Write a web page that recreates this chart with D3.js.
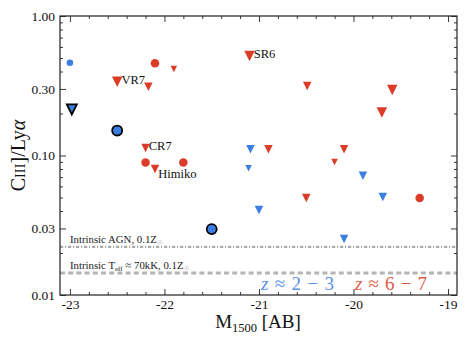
<!DOCTYPE html>
<html><head><meta charset="utf-8">
<script src="https://cdn.jsdelivr.net/npm/d3@7"></script>
<style>body{margin:0;background:#fff}svg{display:block}text{font-family:"Liberation Serif","Times New Roman",serif}</style>
</head><body><div id="chart"></div>
<script>
// ---- data ----
const lowZ_M    = [-23.0, -22.98, -22.5, -21.5, -21.09, -21.11, -21.0, -19.9, -19.69, -20.1];
const lowZ_R    = [0.462, 0.214, 0.151, 0.0297, 0.111, 0.081, 0.0407, 0.0717, 0.0504, 0.0252];
const lowZ_kind = ["det", "lim", "det", "det", "lim", "lim", "lim", "lim", "lim", "lim"];
const lowZ_class= ["S", "H", "H", "H", "M", "S", "M", "M", "M", "M"];

const highZ_M    = [-22.1, -21.9, -22.5, -22.17, -21.1, -20.49, -19.59, -19.7, -22.2, -22.2, -22.1, -21.8, -20.9, -20.1, -20.2, -20.5, -19.3];
const highZ_R    = [0.458, 0.417, 0.338, 0.311, 0.517, 0.315, 0.295, 0.203, 0.113, 0.089, 0.080, 0.089, 0.111, 0.111, 0.090, 0.0496, 0.0496];
const highZ_kind = ["det","lim","lim","lim","lim","lim","lim","lim","lim","det","lim","det","lim","lim","lim","lim","det"];
const highZ_class= ["M","S","L","M","L","M","L","L","M","M","M","M","M","M","S","M","M"];
const highZ_name = ["","","VR7","","SR6","","","","CR7","","Himiko","","","","","",""];

const xTicks = [-23, -22, -21, -20, -19];
const xTickLabels = ["-23", "-22", "-21", "-20", "-19"];
const yTicks = [0.01, 0.03, 0.1, 0.3, 1.0];
const yTickLabels = ["0.01", "0.03", "0.10", "0.30", "1.00"];
const refLines = [
  {value: 0.0221, label: "AGN"},
  {value: 0.0144, label: "Teff"}
];

// ---- layout ----
const W = 469, H = 342;
const m = {l: 60, r: 12, t: 16, b: 47};
const BLUE = "#3b7ee3", RED = "#dc3c27";
const svg = d3.select("#chart").append("svg").attr("width", W).attr("height", H);
const x = d3.scaleLinear().domain([-23.105, -18.905]).range([m.l, W - m.r]);
const y = d3.scaleLog().domain([0.01, 1]).range([H - m.b, m.t]);

// reference lines
const gl = svg.append("g");
gl.append("line").attr("x1", m.l).attr("x2", W - m.r)
  .attr("y1", y(refLines[0].value)).attr("y2", y(refLines[0].value))
  .attr("stroke", "#aaaaaa").attr("stroke-width", 2.2).attr("stroke-dasharray", "3.2,1.8,1.2,1.8");
gl.append("line").attr("x1", m.l).attr("x2", W - m.r)
  .attr("y1", y(refLines[1].value)).attr("y2", y(refLines[1].value))
  .attr("stroke", "#b5b5b5").attr("stroke-width", 3).attr("stroke-dasharray", "5,3.2");

const t1 = svg.append("text").attr("x", x(-23) ).attr("y", y(refLines[0].value) - 4)
  .attr("font-size", 10.8).attr("fill", "#222");
t1.append("tspan").text("Intrinsic AGN, 0.1Z");
t1.append("tspan").attr("font-size", 6.5).attr("dy", 2).attr("font-family", "DejaVu Sans").attr("fill","#999").text("☉");
const t2 = svg.append("text").attr("x", x(-23)).attr("y", y(refLines[1].value) - 4)
  .attr("font-size", 10.8).attr("fill", "#222");
t2.append("tspan").text("Intrinsic T");
t2.append("tspan").attr("font-size", 7).attr("dy", 2).text("eff");
t2.append("tspan").attr("dy", -2).text(" ≈ 70kK, 0.1Z");
t2.append("tspan").attr("font-size", 6.5).attr("dy", 2).attr("font-family", "DejaVu Sans").attr("fill","#999").text("☉");

// axes (ticks inward, mirrored)
const minorX = d3.range(-23.0, -18.85, 0.2).map(v => Math.round(v * 10) / 10).filter(v => !xTicks.includes(v));
const minorY = [];
[0.01, 0.1].forEach(d => { for (let k = 2; k <= 9; k++) minorY.push(d * k); });
const minorYf = minorY.filter(v => !yTicks.some(t => Math.abs(t - v) < 1e-9));

function tickStyle(g) {
  g.select(".domain").remove();
  g.selectAll("line").attr("stroke", "#222").attr("stroke-width", 0.9);
  g.selectAll("text").attr("font-family", "Liberation Serif, serif").attr("font-size", 13.5).attr("fill", "#111");
}
svg.append("g").attr("transform", `translate(0,${H - m.b})`)
  .call(d3.axisBottom(x).tickValues(xTicks).tickFormat((d, i) => xTickLabels[i]).tickSizeInner(-6).tickPadding(4)).call(tickStyle);
svg.append("g").attr("transform", `translate(0,${H - m.b})`)
  .call(d3.axisBottom(x).tickValues(minorX).tickFormat("").tickSizeInner(-3)).call(tickStyle);
svg.append("g").attr("transform", `translate(0,${m.t})`)
  .call(d3.axisTop(x).tickValues(xTicks).tickFormat("").tickSizeInner(-6)).call(tickStyle);
svg.append("g").attr("transform", `translate(0,${m.t})`)
  .call(d3.axisTop(x).tickValues(minorX).tickFormat("").tickSizeInner(-3)).call(tickStyle);
svg.append("g").attr("transform", `translate(${m.l},0)`)
  .call(d3.axisLeft(y).tickValues(yTicks).tickFormat((d, i) => yTickLabels[i]).tickSizeInner(-6).tickPadding(5)).call(tickStyle);
svg.append("g").attr("transform", `translate(${m.l},0)`)
  .call(d3.axisLeft(y).tickValues(minorYf).tickFormat("").tickSizeInner(-3)).call(tickStyle);
svg.append("g").attr("transform", `translate(${W - m.r},0)`)
  .call(d3.axisRight(y).tickValues(yTicks).tickFormat("").tickSizeInner(-6)).call(tickStyle);
svg.append("g").attr("transform", `translate(${W - m.r},0)`)
  .call(d3.axisRight(y).tickValues(minorYf).tickFormat("").tickSizeInner(-3)).call(tickStyle);
svg.append("rect").attr("x", m.l).attr("y", m.t).attr("width", W - m.l - m.r).attr("height", H - m.t - m.b)
  .attr("fill", "none").attr("stroke", "#222").attr("stroke-width", 1.2);

// markers
const sizeOf = {S: 6.5, M: 8.5, L: 10.5, H: 10};
function drawSet(Ms, Rs, kinds, classes, color) {
  const g = svg.append("g");
  Ms.forEach((mv, i) => {
    const cx = x(mv), cy = y(Rs[i]), s = sizeOf[classes[i]];
    const edged = classes[i] === "H";
    if (kinds[i] === "det") {
      g.append("circle").attr("cx", cx).attr("cy", cy).attr("r", s / 2)
        .attr("fill", color).attr("stroke", edged ? "#000" : "none").attr("stroke-width", edged ? 1.8 : 0);
    } else {
      const h = s / 2;
      g.append("path").attr("d", `M${cx - h},${cy - h}L${cx + h},${cy - h}L${cx},${cy + h}Z`)
        .attr("fill", color).attr("stroke", edged ? "#000" : "none").attr("stroke-width", edged ? 1.8 : 0)
        .attr("stroke-linejoin", "miter");
    }
  });
  return g;
}
drawSet(highZ_M, highZ_R, highZ_kind, highZ_class, RED);
drawSet(lowZ_M, lowZ_R, lowZ_kind, lowZ_class, BLUE);

// names
highZ_name.forEach((n, i) => {
  if (!n) return;
  const s = sizeOf[highZ_class[i]];
  const dy = n === "Himiko" ? 8.5 : 2;
  svg.append("text").attr("x", x(highZ_M[i]) + s / 2 - 1).attr("y", y(highZ_R[i]) + dy)
    .attr("font-size", 12.5).attr("fill", "#111").text(n);
});

// legend text
const lg1 = svg.append("text").attr("x", 261).attr("y", 290).attr("font-size", 19).attr("fill", "#5a90ea")
  .attr("textLength", 73).attr("lengthAdjust", "spacing");
lg1.append("tspan").attr("font-style", "italic").text("z");
lg1.append("tspan").text(" ≈ 2 − 3");
const lg2 = svg.append("text").attr("x", 355).attr("y", 290).attr("font-size", 19).attr("fill", "#e35a45")
  .attr("textLength", 72).attr("lengthAdjust", "spacing");
lg2.append("tspan").attr("font-style", "italic").text("z");
lg2.append("tspan").text(" ≈ 6 − 7");

// axis labels
const xl = svg.append("text").attr("x", 258).attr("y", 328).attr("text-anchor", "middle")
  .attr("font-size", 19).attr("fill", "#111");
xl.append("tspan").text("M");
xl.append("tspan").attr("font-size", 12.5).attr("dy", 3.5).text("1500");
xl.append("tspan").attr("dy", -3.5).text(" [AB]");

const yl = svg.append("text").attr("transform", `translate(25,${(m.t + H - m.b) / 2}) rotate(-90)`)
  .attr("text-anchor", "middle").attr("font-size", 20).attr("fill", "#111");
yl.append("tspan").text("C");
yl.append("tspan").attr("font-size", 14.5).text("III");
yl.append("tspan").text("]/Ly");
yl.append("tspan").attr("font-style", "italic").text("α");
</script></body></html>
